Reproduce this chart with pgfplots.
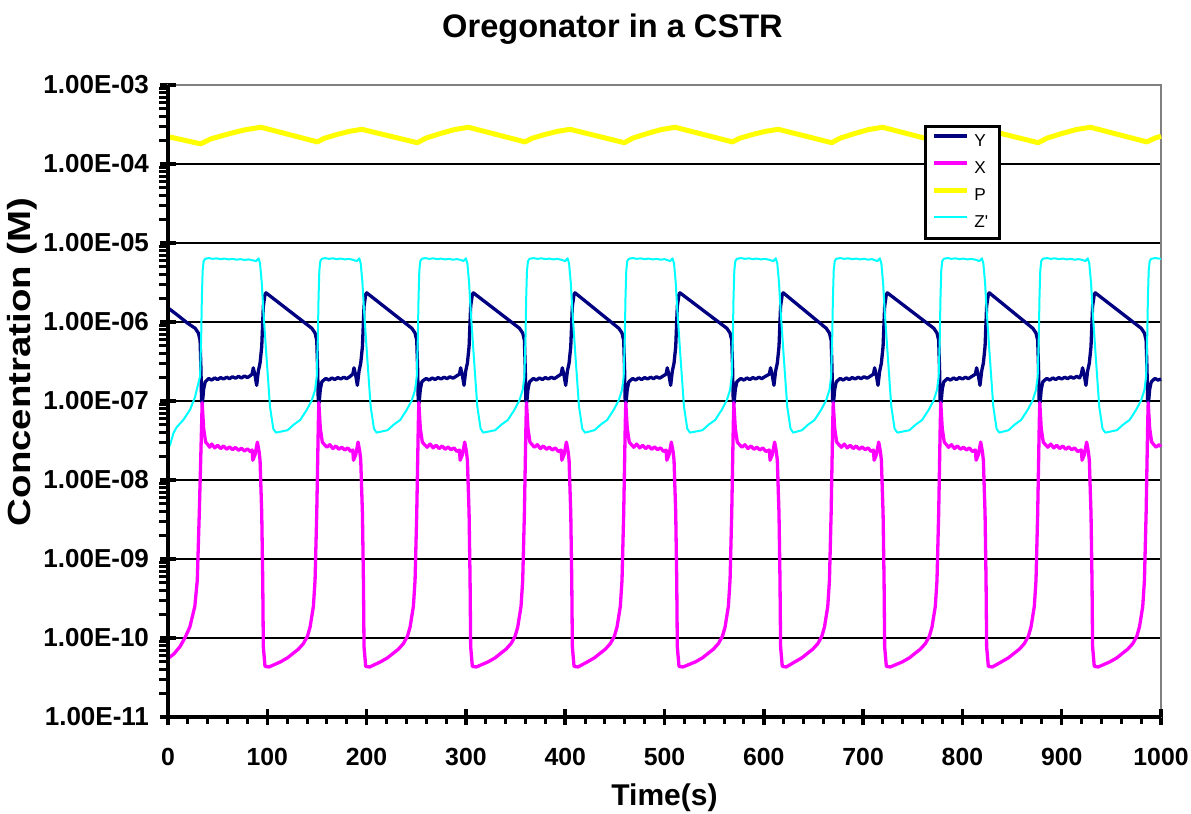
\documentclass[border=0pt]{standalone}
\usepackage{fontspec}
\setmainfont{Liberation Sans}
\usepackage{graphicx}
\usepackage{pgfplots}
\pgfplotsset{compat=1.18}
\usetikzlibrary{calc}
\definecolor{ynavy}{RGB}{0,0,128}
\definecolor{xmag}{RGB}{255,0,255}
\definecolor{pyel}{RGB}{255,255,0}
\definecolor{zcyan}{RGB}{0,255,255}
\definecolor{boxgray}{RGB}{128,128,128}

\begin{document}
\begin{tikzpicture}
\begin{axis}[
  name=main,
  scale only axis,
  width=496.5pt, height=316pt,
  ymode=log,
  xmin=0, xmax=1000, ymin=1e-11, ymax=1e-3,
  clip=false,
  xtick={0,100,...,1000},
  xticklabels={0,100,200,300,400,500,600,700,800,900,1000},
  minor x tick num=4,
  ytick={1e-11,1e-10,1e-9,1e-8,1e-7,1e-6,1e-5,1e-4,1e-3},
  yticklabels={1.00E-11,1.00E-10,1.00E-09,1.00E-08,1.00E-07,1.00E-06,1.00E-05,1.00E-04,1.00E-03},
  tick pos=left,
  tick align=outside,
  major tick length=4pt,
  minor tick length=3.3pt,
  tick style={black, line width=1.75pt},
  every minor tick/.append style={line width=1.5pt},
  ymajorgrids,
  major grid style={black, line width=0.7pt},
  axis line style={boxgray, line width=0.9pt},
  xticklabel style={font=\bfseries\fontsize{12.4}{14}\selectfont, yshift=-8pt},
  yticklabel style={font=\bfseries\fontsize{13}{15}\selectfont, xshift=-2pt},
  title={Oregonator in a CSTR},
  title style={at={(0.4476,1.09)}, anchor=center, yshift=-6.5pt, font=\bfseries\fontsize{16.3}{18}\selectfont},
  xlabel={Time(s)},
  xlabel style={at={(0.5,-0.128)}, anchor=center, font=\bfseries\fontsize{15}{17}\selectfont},
  ylabel={\scalebox{1.2}[1]{Concentration (M)}},
  ylabel style={at={(-0.147,0.562)}, anchor=center, font=\bfseries\fontsize{16}{18}\selectfont},
  legend style={at={(0.761,0.937)}, anchor=north west, draw=black, line width=1.75pt, fill=white,
    inner xsep=3pt, inner ysep=1pt, font=\fontsize{8.6}{9}\selectfont,
    nodes={inner sep=0pt, text height=9pt, text depth=4.5pt},
    /tikz/every odd column/.append style={column sep=2.5pt},
    /tikz/every even column/.append style={text width=9.5pt}},
  legend cell align=left,
  legend image code/.code={\draw[#1] (0pt,3pt) -- (16.5pt,3pt);},
]

% Y
\addplot[ynavy, line width=1.65pt, line join=round] coordinates {
(0,1.51e-6) (10,1.21e-6) (20,9.6e-7) (27.4,8.32e-7)
(30.6,7.24e-7) (32.3,5.89e-7) (33.2,2.51e-7) (33.8,1.0e-7) (34.7,9.5e-8) (35.9,1.41e-7) (37.4,1.74e-7) (38.9,1.82e-7)
(41,1.93e-7) (44,1.84e-7) (47,1.96e-7) (50,1.87e-7) (53,1.98e-7) (56,1.9e-7) (59,2.0e-7) (62,1.92e-7) (65,2.03e-7) (68,1.94e-7) (71,2.05e-7) (74,1.96e-7) (77,2.07e-7) (80,1.98e-7) (83,2.1e-7)
(84.7,2.19e-7) (85.9,2.63e-7) (87.7,2.09e-7) (89.3,1.58e-7) (91.0,2.40e-7) (92.7,3.02e-7) (94.4,4.90e-7) (96.0,1.58e-6) (97.7,2.24e-6) (98.7,2.34e-6)
(144.9,8.32e-7)
(148.1,7.24e-7) (149.8,5.89e-7) (150.7,2.51e-7) (151.3,1.0e-7) (152.2,9.5e-8) (153.4,1.41e-7) (154.9,1.74e-7) (156.4,1.82e-7)
(159,1.93e-7) (162,1.84e-7) (165,1.96e-7) (168,1.87e-7) (171,1.98e-7) (174,1.9e-7) (177,2.0e-7) (180,1.92e-7) (183,2.03e-7)
(186.1,2.19e-7) (187.3,2.63e-7) (189.1,2.09e-7) (190.7,1.58e-7) (192.4,2.40e-7) (194.1,3.02e-7) (195.8,4.90e-7) (197.4,1.58e-6) (199.1,2.24e-6) (200.1,2.34e-6)
(245.6,8.32e-7)
(248.8,7.24e-7) (250.5,5.89e-7) (251.4,2.51e-7) (252.0,1.0e-7) (252.9,9.5e-8) (254.1,1.41e-7) (255.6,1.74e-7) (257.1,1.82e-7)
(260,1.93e-7) (263,1.84e-7) (266,1.96e-7) (269,1.87e-7) (272,1.98e-7) (275,1.9e-7) (278,2.0e-7) (281,1.92e-7) (284,2.03e-7) (287,1.94e-7) (290,2.05e-7)
(293.5,2.19e-7) (294.7,2.63e-7) (296.5,2.09e-7) (298.1,1.58e-7) (299.8,2.40e-7) (301.5,3.02e-7) (303.2,4.90e-7) (304.8,1.58e-6) (306.5,2.24e-6) (307.5,2.34e-6)
(354.0,8.32e-7)
(357.2,7.24e-7) (358.9,5.89e-7) (359.8,2.51e-7) (360.4,1.0e-7) (361.3,9.5e-8) (362.5,1.41e-7) (364.0,1.74e-7) (365.5,1.82e-7)
(368,1.93e-7) (371,1.84e-7) (374,1.96e-7) (377,1.87e-7) (380,1.98e-7) (383,1.9e-7) (386,2.0e-7) (389,1.92e-7) (392,2.03e-7)
(395.9,2.19e-7) (397.1,2.63e-7) (398.9,2.09e-7) (400.5,1.58e-7) (402.2,2.40e-7) (403.9,3.02e-7) (405.6,4.90e-7) (407.2,1.58e-6) (408.9,2.24e-6) (409.9,2.34e-6)
(454.0,8.32e-7)
(457.2,7.24e-7) (458.9,5.89e-7) (459.8,2.51e-7) (460.4,1.0e-7) (461.3,9.5e-8) (462.5,1.41e-7) (464.0,1.74e-7) (465.5,1.82e-7)
(468,1.93e-7) (471,1.84e-7) (474,1.96e-7) (477,1.87e-7) (480,1.98e-7) (483,1.9e-7) (486,2.0e-7) (489,1.92e-7) (492,2.03e-7) (495,1.94e-7) (498,2.05e-7)
(501.6,2.19e-7) (502.8,2.63e-7) (504.6,2.09e-7) (506.2,1.58e-7) (507.9,2.40e-7) (509.6,3.02e-7) (511.3,4.90e-7) (512.9,1.58e-6) (514.6,2.24e-6) (515.6,2.34e-6)
(562.8,8.32e-7)
(566.0,7.24e-7) (567.7,5.89e-7) (568.6,2.51e-7) (569.2,1.0e-7) (570.1,9.5e-8) (571.3,1.41e-7) (572.8,1.74e-7) (574.3,1.82e-7)
(577,1.93e-7) (580,1.84e-7) (583,1.96e-7) (586,1.87e-7) (589,1.98e-7) (592,1.9e-7) (595,2.0e-7) (598,1.92e-7) (601,2.03e-7)
(605.6,2.19e-7) (606.8,2.63e-7) (608.6,2.09e-7) (610.2,1.58e-7) (611.9,2.40e-7) (613.6,3.02e-7) (615.3,4.90e-7) (616.9,1.58e-6) (618.6,2.24e-6) (619.6,2.34e-6)
(662.9,8.32e-7)
(666.1,7.24e-7) (667.8,5.89e-7) (668.7,2.51e-7) (669.3,1.0e-7) (670.2,9.5e-8) (671.4,1.41e-7) (672.9,1.74e-7) (674.4,1.82e-7)
(677,1.93e-7) (680,1.84e-7) (683,1.96e-7) (686,1.87e-7) (689,1.98e-7) (692,1.9e-7) (695,2.0e-7) (698,1.92e-7) (701,2.03e-7) (704,1.94e-7) (707,2.05e-7)
(710.4,2.19e-7) (711.6,2.63e-7) (713.4,2.09e-7) (715.0,1.58e-7) (716.7,2.40e-7) (718.4,3.02e-7) (720.1,4.90e-7) (721.7,1.58e-6) (723.4,2.24e-6) (724.4,2.34e-6)
(771.2,8.32e-7)
(774.4,7.24e-7) (776.1,5.89e-7) (777.0,2.51e-7) (777.6,1.0e-7) (778.5,9.5e-8) (779.7,1.41e-7) (781.2,1.74e-7) (782.7,1.82e-7)
(785,1.93e-7) (788,1.84e-7) (791,1.96e-7) (794,1.87e-7) (797,1.98e-7) (800,1.9e-7) (803,2.0e-7) (806,1.92e-7) (809,2.03e-7)
(813.1,2.19e-7) (814.3,2.63e-7) (816.1,2.09e-7) (817.7,1.58e-7) (819.4,2.40e-7) (821.1,3.02e-7) (822.8,4.90e-7) (824.4,1.58e-6) (826.1,2.24e-6) (827.1,2.34e-6)
(870.9,8.32e-7)
(874.1,7.24e-7) (875.8,5.89e-7) (876.7,2.51e-7) (877.3,1.0e-7) (878.2,9.5e-8) (879.4,1.41e-7) (880.9,1.74e-7) (882.4,1.82e-7)
(885,1.93e-7) (888,1.84e-7) (891,1.96e-7) (894,1.87e-7) (897,1.98e-7) (900,1.9e-7) (903,2.0e-7) (906,1.92e-7) (909,2.03e-7) (912,1.94e-7) (915,2.05e-7) (918,1.96e-7)
(919.8,2.19e-7) (921.0,2.63e-7) (922.8,2.09e-7) (924.4,1.58e-7) (926.1,2.40e-7) (927.8,3.02e-7) (929.5,4.90e-7) (931.1,1.58e-6) (932.8,2.24e-6) (933.8,2.34e-6)
(980.1,8.32e-7)
(983.3,7.24e-7) (985.0,5.89e-7) (985.9,2.51e-7) (986.5,1.0e-7) (987.4,9.5e-8) (988.6,1.41e-7) (990.1,1.74e-7) (991.6,1.82e-7) (994,1.93e-7) (997,1.84e-7) (1000,1.9e-7)
};

% X
\addplot[xmag, line width=1.65pt, line join=round] coordinates {
(0,5.5e-11) (6,6.3e-11) (12,7.76e-11) (17,1.0e-10) (22,1.38e-10) (27,2.51e-10) (29.5,5.37e-10) (31.5,3.8e-9) (33.9,5.25e-8) (34.4,9.5e-8)
(35.9,4.47e-8) (37.9,3.02e-8) (39.9,2.82e-8) (42,2.6e-8) (44,2.85e-8) (47,2.55e-8) (50,2.75e-8) (53,2.5e-8) (56,2.7e-8) (59,2.45e-8) (62,2.62e-8) (65,2.42e-8) (68,2.58e-8) (71,2.38e-8) (74,2.52e-8) (77,2.33e-8) (80,2.48e-8) (83,2.29e-8)
(84.7,2.4e-8) (85.4,1.78e-8) (87.7,2.1e-8) (90.0,3.02e-8) (91.7,2.3e-8) (92.7,1.78e-8) (94.4,3.8e-9) (95.4,5.37e-10) (96.0,7.76e-11) (97.7,4.37e-11)
(101.7,4.3e-11) (113.4,5.0e-11) (120.4,5.62e-11) (126.4,6.46e-11) (131.4,7.24e-11) (136.4,8.51e-11) (140.4,1.05e-10) (143.1,1.38e-10) (146.4,2.51e-10) (148.1,5.37e-10) (149.8,3.8e-9) (151.4,5.25e-8) (151.9,9.5e-8)
(153.4,4.47e-8) (155.4,3.02e-8) (157.4,2.82e-8) (160,2.6e-8) (163,2.8e-8) (166,2.5e-8) (169,2.7e-8) (172,2.45e-8) (175,2.6e-8) (178,2.4e-8) (181,2.55e-8) (184,2.3e-8)
(186.1,2.4e-8) (186.8,1.78e-8) (189.1,2.1e-8) (191.4,3.02e-8) (193.1,2.3e-8) (194.1,1.78e-8) (195.8,3.8e-9) (196.8,5.37e-10) (197.4,7.76e-11) (199.1,4.37e-11)
(203.1,4.3e-11) (214.1,5.0e-11) (221.1,5.62e-11) (227.1,6.46e-11) (232.1,7.24e-11) (237.1,8.51e-11) (241.1,1.05e-10) (243.8,1.38e-10) (247.1,2.51e-10) (248.8,5.37e-10) (250.5,3.8e-9) (252.1,5.25e-8) (252.6,9.5e-8)
(254.1,4.47e-8) (256.1,3.02e-8) (258.1,2.82e-8) (261,2.6e-8) (264,2.85e-8) (267,2.55e-8) (270,2.75e-8) (273,2.5e-8) (276,2.7e-8) (279,2.45e-8) (282,2.62e-8) (285,2.42e-8) (288,2.55e-8) (291,2.3e-8)
(293.5,2.4e-8) (294.2,1.78e-8) (296.5,2.1e-8) (298.8,3.02e-8) (300.5,2.3e-8) (301.5,1.78e-8) (303.2,3.8e-9) (304.2,5.37e-10) (304.8,7.76e-11) (306.5,4.37e-11)
(310.5,4.3e-11) (322.5,5.0e-11) (329.5,5.62e-11) (335.5,6.46e-11) (340.5,7.24e-11) (345.5,8.51e-11) (349.5,1.05e-10) (352.2,1.38e-10) (355.5,2.51e-10) (357.2,5.37e-10) (358.9,3.8e-9) (360.5,5.25e-8) (361.0,9.5e-8)
(362.5,4.47e-8) (364.5,3.02e-8) (366.5,2.82e-8) (369,2.6e-8) (372,2.8e-8) (375,2.5e-8) (378,2.7e-8) (381,2.45e-8) (384,2.6e-8) (387,2.4e-8) (390,2.55e-8) (393,2.3e-8)
(395.9,2.4e-8) (396.6,1.78e-8) (398.9,2.1e-8) (401.2,3.02e-8) (402.9,2.3e-8) (403.9,1.78e-8) (405.6,3.8e-9) (406.6,5.37e-10) (407.2,7.76e-11) (408.9,4.37e-11)
(412.9,4.3e-11) (422.5,5.0e-11) (429.5,5.62e-11) (435.5,6.46e-11) (440.5,7.24e-11) (445.5,8.51e-11) (449.5,1.05e-10) (452.2,1.38e-10) (455.5,2.51e-10) (457.2,5.37e-10) (458.9,3.8e-9) (460.5,5.25e-8) (461.0,9.5e-8)
(462.5,4.47e-8) (464.5,3.02e-8) (466.5,2.82e-8) (469,2.6e-8) (472,2.85e-8) (475,2.55e-8) (478,2.75e-8) (481,2.5e-8) (484,2.7e-8) (487,2.45e-8) (490,2.62e-8) (493,2.42e-8) (496,2.55e-8) (499,2.3e-8)
(501.6,2.4e-8) (502.3,1.78e-8) (504.6,2.1e-8) (506.9,3.02e-8) (508.6,2.3e-8) (509.6,1.78e-8) (511.3,3.8e-9) (512.3,5.37e-10) (512.9,7.76e-11) (514.6,4.37e-11)
(518.6,4.3e-11) (531.3,5.0e-11) (538.3,5.62e-11) (544.3,6.46e-11) (549.3,7.24e-11) (554.3,8.51e-11) (558.3,1.05e-10) (561.0,1.38e-10) (564.3,2.51e-10) (566.0,5.37e-10) (567.7,3.8e-9) (569.3,5.25e-8) (569.8,9.5e-8)
(571.3,4.47e-8) (573.3,3.02e-8) (575.3,2.82e-8) (578,2.6e-8) (581,2.8e-8) (584,2.5e-8) (587,2.7e-8) (590,2.45e-8) (593,2.6e-8) (596,2.4e-8) (599,2.55e-8) (602,2.3e-8)
(605.6,2.4e-8) (606.3,1.78e-8) (608.6,2.1e-8) (610.9,3.02e-8) (612.6,2.3e-8) (613.6,1.78e-8) (615.3,3.8e-9) (616.3,5.37e-10) (616.9,7.76e-11) (618.6,4.37e-11)
(622.6,4.3e-11) (631.4,5.0e-11) (638.4,5.62e-11) (644.4,6.46e-11) (649.4,7.24e-11) (654.4,8.51e-11) (658.4,1.05e-10) (661.1,1.38e-10) (664.4,2.51e-10) (666.1,5.37e-10) (667.8,3.8e-9) (669.4,5.25e-8) (669.9,9.5e-8)
(671.4,4.47e-8) (673.4,3.02e-8) (675.4,2.82e-8) (678,2.6e-8) (681,2.85e-8) (684,2.55e-8) (687,2.75e-8) (690,2.5e-8) (693,2.7e-8) (696,2.45e-8) (699,2.62e-8) (702,2.42e-8) (705,2.55e-8) (708,2.3e-8)
(710.4,2.4e-8) (711.1,1.78e-8) (713.4,2.1e-8) (715.7,3.02e-8) (717.4,2.3e-8) (718.4,1.78e-8) (720.1,3.8e-9) (721.1,5.37e-10) (721.7,7.76e-11) (723.4,4.37e-11)
(727.4,4.3e-11) (739.7,5.0e-11) (746.7,5.62e-11) (752.7,6.46e-11) (757.7,7.24e-11) (762.7,8.51e-11) (766.7,1.05e-10) (769.4,1.38e-10) (772.7,2.51e-10) (774.4,5.37e-10) (776.1,3.8e-9) (777.7,5.25e-8) (778.2,9.5e-8)
(779.7,4.47e-8) (781.7,3.02e-8) (783.7,2.82e-8) (786,2.6e-8) (789,2.8e-8) (792,2.5e-8) (795,2.7e-8) (798,2.45e-8) (801,2.6e-8) (804,2.4e-8) (807,2.55e-8) (810,2.3e-8)
(813.1,2.4e-8) (813.8,1.78e-8) (816.1,2.1e-8) (818.4,3.02e-8) (820.1,2.3e-8) (821.1,1.78e-8) (822.8,3.8e-9) (823.8,5.37e-10) (824.4,7.76e-11) (826.1,4.37e-11)
(830.1,4.3e-11) (839.4,5.0e-11) (846.4,5.62e-11) (852.4,6.46e-11) (857.4,7.24e-11) (862.4,8.51e-11) (866.4,1.05e-10) (869.1,1.38e-10) (872.4,2.51e-10) (874.1,5.37e-10) (875.8,3.8e-9) (877.4,5.25e-8) (877.9,9.5e-8)
(879.4,4.47e-8) (881.4,3.02e-8) (883.4,2.82e-8) (886,2.6e-8) (889,2.85e-8) (892,2.55e-8) (895,2.75e-8) (898,2.5e-8) (901,2.7e-8) (904,2.45e-8) (907,2.62e-8) (910,2.42e-8) (913,2.55e-8) (916,2.3e-8)
(919.8,2.4e-8) (920.5,1.78e-8) (922.8,2.1e-8) (925.1,3.02e-8) (926.8,2.3e-8) (927.8,1.78e-8) (929.5,3.8e-9) (930.5,5.37e-10) (931.1,7.76e-11) (932.8,4.37e-11)
(936.8,4.3e-11) (948.6,5.0e-11) (955.6,5.62e-11) (961.6,6.46e-11) (966.6,7.24e-11) (971.6,8.51e-11) (975.6,1.05e-10) (978.3,1.38e-10) (981.6,2.51e-10) (983.3,5.37e-10) (985.0,3.8e-9) (986.6,5.25e-8) (987.1,9.5e-8)
(988.6,4.47e-8) (990.6,3.02e-8) (992.6,2.82e-8) (995,2.6e-8) (998,2.8e-8) (1000,2.65e-8)
};

% P
\addplot[pyel, line width=2.5pt, line join=round] coordinates {
(0,2.22e-4) (32.9,1.80e-4) (43.2,2.08e-4) (60.3,2.39e-4) (76.7,2.70e-4) (93.7,2.92e-4)
(150.4,1.905e-4) (158.0,2.13e-4) (170.5,2.37e-4) (182.6,2.59e-4) (195.1,2.75e-4)
(251.1,1.86e-4) (259.8,2.13e-4) (274.2,2.43e-4) (288.1,2.72e-4) (302.5,2.92e-4)
(359.5,1.905e-4) (367.2,2.13e-4) (379.9,2.37e-4) (392.2,2.59e-4) (404.9,2.75e-4)
(459.5,1.86e-4) (468.2,2.13e-4) (482.5,2.43e-4) (496.3,2.72e-4) (510.6,2.92e-4)
(568.3,1.905e-4) (576.2,2.13e-4) (589.1,2.37e-4) (601.6,2.59e-4) (614.6,2.75e-4)
(668.4,1.86e-4) (677.1,2.13e-4) (691.4,2.43e-4) (705.1,2.72e-4) (719.4,2.92e-4)
(776.7,1.905e-4) (784.4,2.13e-4) (797.1,2.37e-4) (809.4,2.59e-4) (822.1,2.75e-4)
(876.4,1.86e-4) (885.3,2.13e-4) (900.0,2.43e-4) (914.1,2.72e-4) (928.8,2.92e-4)
(985.6,1.905e-4) (994,2.13e-4) (1000,2.25e-4)
};

% Z'
\addplot[zcyan, line width=1pt, line join=round] coordinates {
(0,2.6e-8) (2,2.75e-8) (5.4,3.89e-8) (8.8,4.68e-8) (15.4,5.75e-8) (22.2,7.76e-8) (27.2,1.12e-7) (30.5,1.66e-7) (32.3,2.04e-7) (33.4,6.3e-7) (34.1,2.0e-6) (34.9,4.47e-6) (35.9,5.9e-6) (37.4,6.3e-6)
(41,6.45e-6) (45,6.3e-6) (49,6.4e-6) (53,6.25e-6) (57,6.35e-6) (61,6.2e-6) (65,6.3e-6) (69,6.15e-6) (73,6.25e-6) (77,6.1e-6) (81,6.2e-6) (85,6.05e-6)
(88.7,5.9e-6) (91.2,6.4e-6) (92.7,5.5e-6) (94.4,3.16e-6) (96.0,1.41e-6) (99.4,3.31e-7) (102.7,8.51e-8) (106.0,4.47e-8) (108.7,3.98e-8)
(120.4,4.27e-8) (126.4,5.0e-8) (133.1,5.75e-8) (139.8,7.76e-8) (144.8,1.02e-7) (148.1,1.38e-7) (149.8,2.04e-7) (150.9,6.3e-7) (151.6,2.0e-6) (152.4,4.47e-6) (153.4,5.9e-6) (154.9,6.3e-6)
(158,6.45e-6) (162,6.3e-6) (166,6.4e-6) (170,6.25e-6) (174,6.35e-6) (178,6.2e-6) (182,6.3e-6) (186,6.15e-6)
(190.1,5.9e-6) (192.6,6.4e-6) (194.1,5.5e-6) (195.8,3.16e-6) (197.4,1.41e-6) (200.8,3.31e-7) (204.1,8.51e-8) (207.4,4.47e-8) (210.1,3.98e-8)
(221.1,4.27e-8) (227.1,5.0e-8) (233.8,5.75e-8) (240.5,7.76e-8) (245.5,1.02e-7) (248.8,1.38e-7) (250.5,2.04e-7) (251.6,6.3e-7) (252.3,2.0e-6) (253.1,4.47e-6) (254.1,5.9e-6) (255.6,6.3e-6)
(259,6.45e-6) (263,6.3e-6) (267,6.4e-6) (271,6.25e-6) (275,6.35e-6) (279,6.2e-6) (283,6.3e-6) (287,6.15e-6) (291,6.25e-6) (295,6.1e-6)
(297.5,5.9e-6) (300.0,6.4e-6) (301.5,5.5e-6) (303.2,3.16e-6) (304.8,1.41e-6) (308.2,3.31e-7) (311.5,8.51e-8) (314.8,4.47e-8) (317.5,3.98e-8)
(329.5,4.27e-8) (335.5,5.0e-8) (342.2,5.75e-8) (348.9,7.76e-8) (353.9,1.02e-7) (357.2,1.38e-7) (358.9,2.04e-7) (360.0,6.3e-7) (360.7,2.0e-6) (361.5,4.47e-6) (362.5,5.9e-6) (364.0,6.3e-6)
(368,6.45e-6) (372,6.3e-6) (376,6.4e-6) (380,6.25e-6) (384,6.35e-6) (388,6.2e-6) (392,6.3e-6) (396,6.15e-6)
(399.9,5.9e-6) (402.4,6.4e-6) (403.9,5.5e-6) (405.6,3.16e-6) (407.2,1.41e-6) (410.6,3.31e-7) (413.9,8.51e-8) (417.2,4.47e-8) (419.9,3.98e-8)
(429.5,4.27e-8) (435.5,5.0e-8) (442.2,5.75e-8) (448.9,7.76e-8) (453.9,1.02e-7) (457.2,1.38e-7) (458.9,2.04e-7) (460.0,6.3e-7) (460.7,2.0e-6) (461.5,4.47e-6) (462.5,5.9e-6) (464.0,6.3e-6)
(468,6.45e-6) (472,6.3e-6) (476,6.4e-6) (480,6.25e-6) (484,6.35e-6) (488,6.2e-6) (492,6.3e-6) (496,6.15e-6) (500,6.25e-6)
(505.6,5.9e-6) (508.1,6.4e-6) (509.6,5.5e-6) (511.3,3.16e-6) (512.9,1.41e-6) (516.3,3.31e-7) (519.6,8.51e-8) (522.9,4.47e-8) (525.6,3.98e-8)
(538.3,4.27e-8) (544.3,5.0e-8) (551.0,5.75e-8) (557.7,7.76e-8) (562.7,1.02e-7) (566.0,1.38e-7) (567.7,2.04e-7) (568.8,6.3e-7) (569.5,2.0e-6) (570.3,4.47e-6) (571.3,5.9e-6) (572.8,6.3e-6)
(577,6.45e-6) (581,6.3e-6) (585,6.4e-6) (589,6.25e-6) (593,6.35e-6) (597,6.2e-6) (601,6.3e-6) (605,6.15e-6)
(609.6,5.9e-6) (612.1,6.4e-6) (613.6,5.5e-6) (615.3,3.16e-6) (616.9,1.41e-6) (620.3,3.31e-7) (623.6,8.51e-8) (626.9,4.47e-8) (629.6,3.98e-8)
(638.4,4.27e-8) (644.4,5.0e-8) (651.1,5.75e-8) (657.8,7.76e-8) (662.8,1.02e-7) (666.1,1.38e-7) (667.8,2.04e-7) (668.9,6.3e-7) (669.6,2.0e-6) (670.4,4.47e-6) (671.4,5.9e-6) (672.9,6.3e-6)
(677,6.45e-6) (681,6.3e-6) (685,6.4e-6) (689,6.25e-6) (693,6.35e-6) (697,6.2e-6) (701,6.3e-6) (705,6.15e-6) (709,6.25e-6)
(714.4,5.9e-6) (716.9,6.4e-6) (718.4,5.5e-6) (720.1,3.16e-6) (721.7,1.41e-6) (725.1,3.31e-7) (728.4,8.51e-8) (731.7,4.47e-8) (734.4,3.98e-8)
(746.7,4.27e-8) (752.7,5.0e-8) (759.4,5.75e-8) (766.1,7.76e-8) (771.1,1.02e-7) (774.4,1.38e-7) (776.1,2.04e-7) (777.2,6.3e-7) (777.9,2.0e-6) (778.7,4.47e-6) (779.7,5.9e-6) (781.2,6.3e-6)
(785,6.45e-6) (789,6.3e-6) (793,6.4e-6) (797,6.25e-6) (801,6.35e-6) (805,6.2e-6) (809,6.3e-6) (813,6.15e-6)
(817.1,5.9e-6) (819.6,6.4e-6) (821.1,5.5e-6) (822.8,3.16e-6) (824.4,1.41e-6) (827.8,3.31e-7) (831.1,8.51e-8) (834.4,4.47e-8) (837.1,3.98e-8)
(846.4,4.27e-8) (852.4,5.0e-8) (859.1,5.75e-8) (865.8,7.76e-8) (870.8,1.02e-7) (874.1,1.38e-7) (875.8,2.04e-7) (876.9,6.3e-7) (877.6,2.0e-6) (878.4,4.47e-6) (879.4,5.9e-6) (880.9,6.3e-6)
(885,6.45e-6) (889,6.3e-6) (893,6.4e-6) (897,6.25e-6) (901,6.35e-6) (905,6.2e-6) (909,6.3e-6) (913,6.15e-6) (917,6.25e-6) (921,6.1e-6)
(923.8,5.9e-6) (926.3,6.4e-6) (927.8,5.5e-6) (929.5,3.16e-6) (931.1,1.41e-6) (934.5,3.31e-7) (937.8,8.51e-8) (941.1,4.47e-8) (943.8,3.98e-8)
(955.6,4.27e-8) (961.6,5.0e-8) (968.3,5.75e-8) (975.0,7.76e-8) (980.0,1.02e-7) (983.3,1.38e-7) (985.0,2.04e-7) (986.1,6.3e-7) (986.8,2.0e-6) (987.6,4.47e-6) (988.6,5.9e-6) (990.1,6.3e-6) (994,6.45e-6) (1000,6.3e-6)
};

\legend{Y,X,P,Z\textquotesingle}

% minor ticks of the log axis (outside) and the inner halves of the major ticks
\pgfplotsinvokeforeach{2e-11,3e-11,4e-11,5e-11,6e-11,7e-11,8e-11,9e-11,
    2e-10,3e-10,4e-10,5e-10,6e-10,7e-10,8e-10,9e-10,
    2e-9,3e-9,4e-9,5e-9,6e-9,7e-9,8e-9,9e-9,
    2e-8,3e-8,4e-8,5e-8,6e-8,7e-8,8e-8,9e-8,
    2e-7,3e-7,4e-7,5e-7,6e-7,7e-7,8e-7,9e-7,
    2e-6,3e-6,4e-6,5e-6,6e-6,7e-6,8e-6,9e-6,
    2e-5,3e-5,4e-5,5e-5,6e-5,7e-5,8e-5,9e-5,
    2e-4,3e-4,4e-4,5e-4,6e-4,7e-4,8e-4,9e-4}{
  \draw[black, line width=1.5pt] (axis cs:0,#1) -- ++(-4.3pt,0pt);
}
\pgfplotsinvokeforeach{1e-11,1e-10,1e-9,1e-8,1e-7,1e-6,1e-5,1e-4,1e-3}{
  \draw[black, line width=1.75pt] (axis cs:0,#1) -- ++(4pt,0pt);
}
\pgfplotsinvokeforeach{0,100,200,300,400,500,600,700,800,900,1000}{
  \draw[black, line width=1.75pt] (axis cs:#1,1e-11) -- ++(0pt,4pt);
}
\draw[black, line width=2pt] (rel axis cs:0,1) -- (rel axis cs:0,0) -- (rel axis cs:1,0);
\end{axis}
\pgfresetboundingbox
\path[use as bounding box] ($(main.south west)+(-84pt,-48pt)$) rectangle ($(main.north east)+(15pt,42.5pt)$);
\end{tikzpicture}
\end{document}
